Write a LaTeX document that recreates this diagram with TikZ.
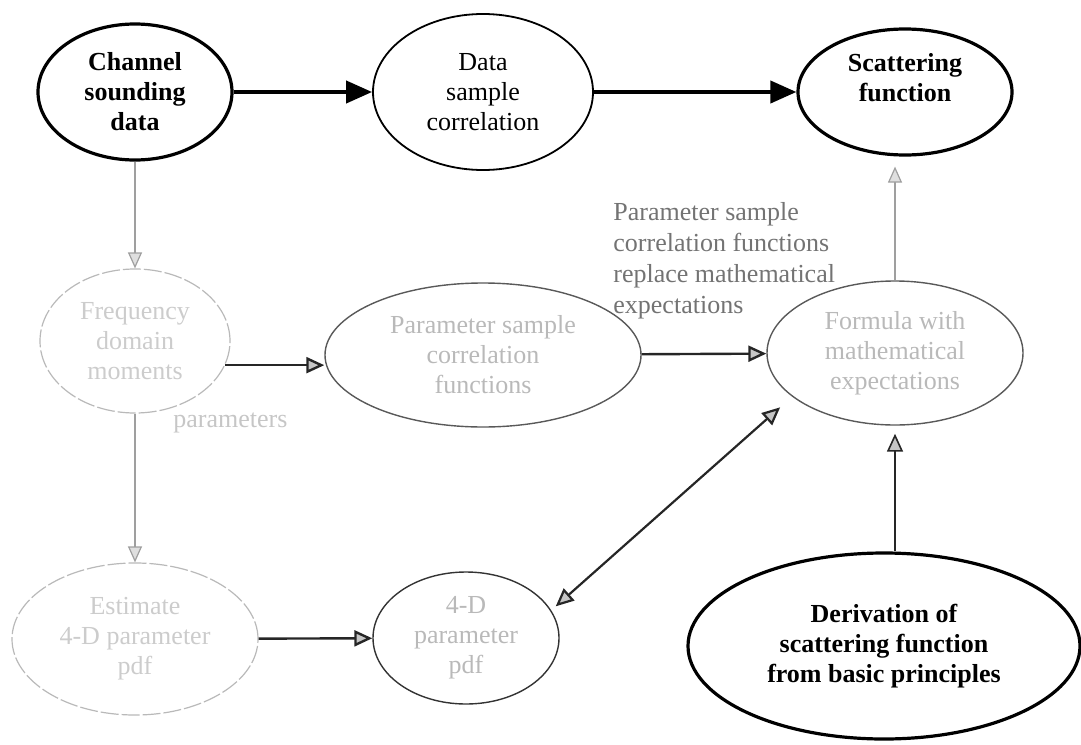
\documentclass[tikz,border=0pt]{standalone}
\usepackage{fontspec}
\setmainfont{Liberation Serif}
\usetikzlibrary{shapes.geometric,arrows.meta}
\tikzset{>=Stealth}
\tikzset{
  ovalnode/.style={ellipse, draw, inner sep=0pt, align=center, font=\fontsize{13}{15}\selectfont},
  boldoval/.style={ovalnode, line width=1.6pt, font=\fontsize{13}{15}\selectfont\bfseries},
  faintoval/.style={ovalnode, draw=gray!55, text=gray!40, line width=0.6pt, dash pattern=on 9pt off 1.5pt},
  paleoval/.style={ovalnode, draw=black!65, text=gray!55, line width=0.7pt},
  notetext/.style={inner sep=0pt, align=left, text=black!55, font=\fontsize{13}{15.5}\selectfont},
  heavyarrow/.style={line width=2pt, -{Triangle[length=13pt,width=11pt]}},
  midarrow/.style={line width=1.2pt, draw=black!85, -{Triangle[length=9pt,width=8pt,fill=gray!45]}},
  lightarrow/.style={line width=0.6pt, draw=gray!75, -{Triangle[length=8pt,width=7pt,fill=gray!25]}},
  twoarrow/.style={line width=1.1pt, draw=black!85, {Triangle[length=9pt,width=8pt,fill=gray!45]}-{Triangle[length=9pt,width=8pt,fill=gray!45]}}
}

\begin{document}
\begin{tikzpicture}[x=0.5pt,y=-0.5pt]
    \useasboundingbox (0,0) rectangle (1081,744);
    % set up the nodes
    \node[boldoval, minimum width=97pt, minimum height=68pt] (chan) at (135,92) {Channel\\sounding\\data};
    \node[ovalnode, line width=0.9pt, minimum width=110pt, minimum height=78pt] (data) at (483,92) {Data\\sample\\correlation};
    \node[boldoval, minimum width=107pt, minimum height=63pt] (scat) at (905,92) {Scattering\\function\\\mbox{}};
    \node[faintoval, minimum width=95pt, minimum height=72pt] (freq) at (135,341) {Frequency\\domain\\moments};
    \node[paleoval, minimum width=158pt, minimum height=72pt] (param) at (483,355) {Parameter sample\\correlation\\functions};
    \node[paleoval, minimum width=128pt, minimum height=72pt] (formula) at (895,353) {Formula with\\mathematical\\expectations};
    \node[faintoval, minimum width=123pt, minimum height=76pt] (est) at (135,639) {Estimate\\4-D parameter\\pdf};
    \node[paleoval, draw=black!80, minimum width=93pt, minimum height=66pt] (fourd) at (466,638) {4-D\\parameter\\pdf};
    \node[boldoval, minimum width=196pt, minimum height=93pt] (deriv) at (884,646) {Derivation of\\scattering function\\from basic principles};
    % free texts
    \node[notetext, anchor=north west] (repl) at (613,202) {Parameter sample\\correlation functions\\replace mathematical\\expectations};
    \node[notetext, text=gray!45, anchor=west] (parlab) at (173,423) {parameters};
    % draw arrows between them
    \draw[heavyarrow] (chan) -- (data);
    \draw[heavyarrow] (data) -- (scat);
    \draw[lightarrow] (chan) -- (freq);
    \draw[lightarrow] (freq) -- (est);
    \draw[midarrow] (freq.-15) -- (freq.-15 -| param.west);
    \draw[midarrow] (param) -- (formula);
    \draw[midarrow] (est) -- (fourd);
    \draw[lightarrow, shorten >=5pt] (formula.north) -- (formula.north |- scat.south);
    \draw[midarrow, line width=0.8pt, shorten >=4pt] (formula.south |- deriv.north) -- (formula.south);
    \draw[twoarrow, shorten <=3pt, shorten >=8pt] (fourd.18) -- (formula.203);
\end{tikzpicture}
\end{document}
